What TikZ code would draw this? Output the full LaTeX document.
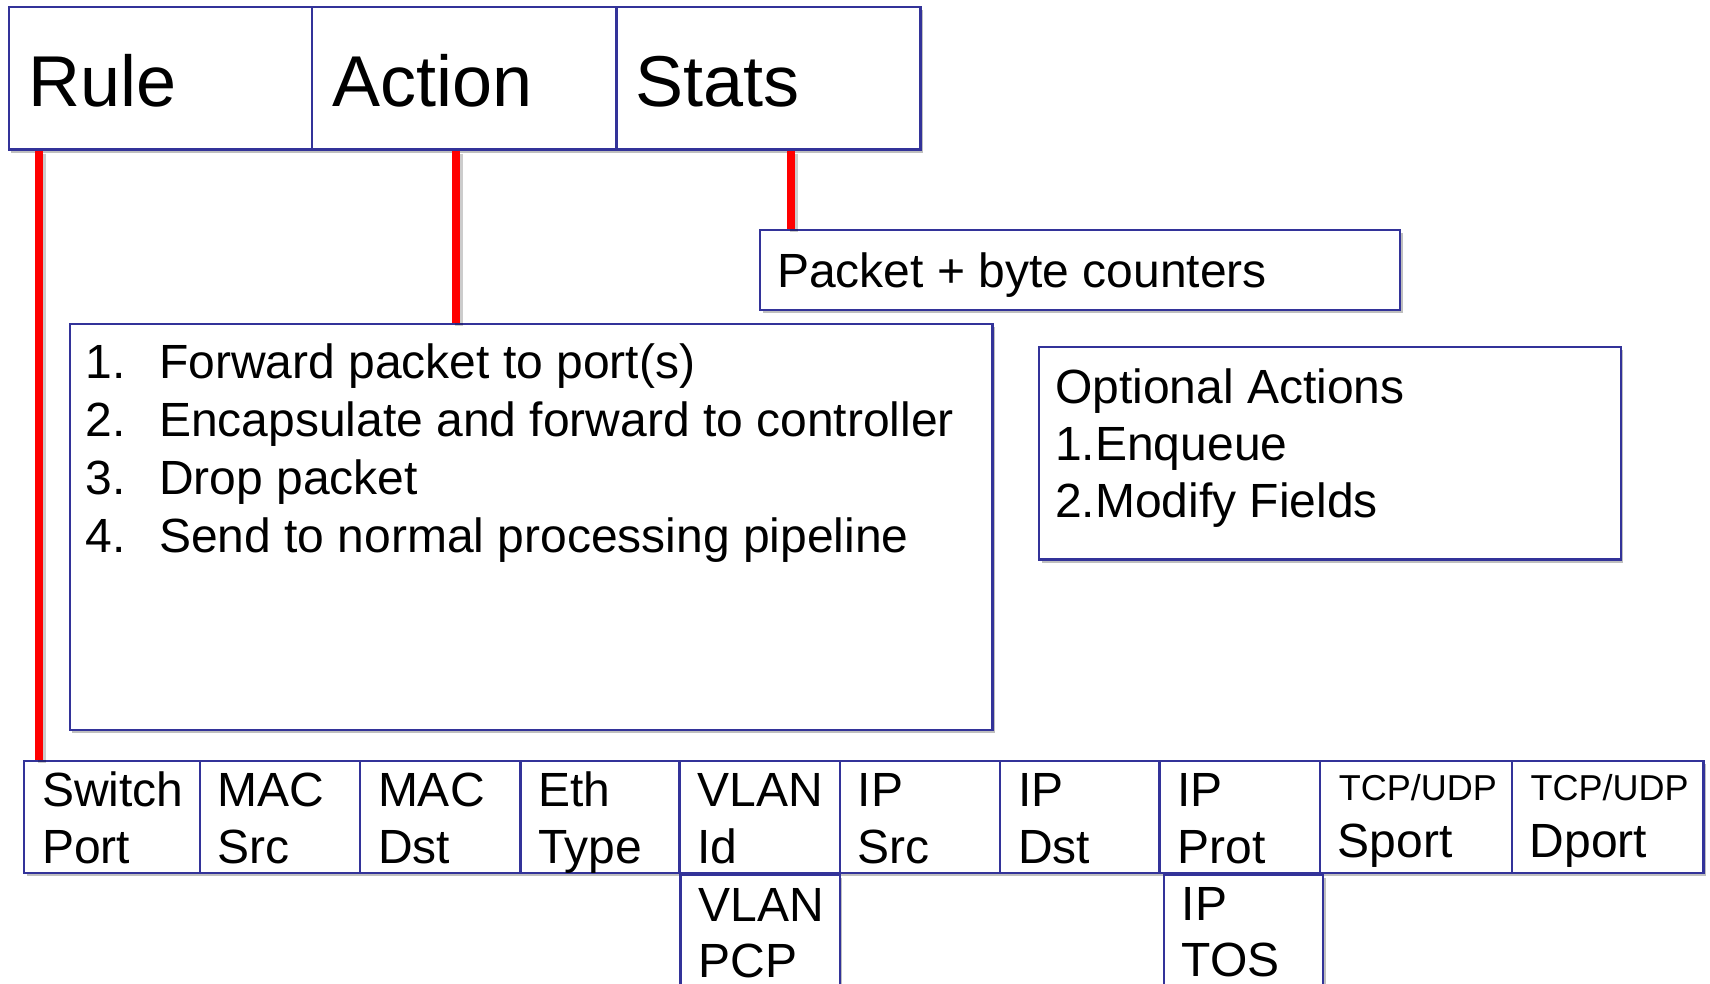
\documentclass[tikz,border=0pt]{standalone}
\usepackage{fontspec}
\setmainfont{Liberation Sans}
\usetikzlibrary{calc,shadows}
\definecolor{frameblue}{HTML}{333399}
\definecolor{tapred}{HTML}{FF0000}

\begin{document}
\begin{tikzpicture}[x=1pt,y=-1pt,
  box/.style={draw=frameblue, line width=2.4pt, fill=white, rectangle,
    inner sep=0pt, anchor=north west,
    drop shadow={shadow xshift=2.5pt, shadow yshift=-3pt, fill=black, opacity=0.25}},
  tap/.style={draw=tapred, line width=8pt,
    preaction={draw=black, opacity=0.2, line width=8pt, transform canvas={shift={(2.5pt,-3pt)}}}},
  big/.style={anchor=base west, inner sep=0pt, font=\fontsize{72}{80}\selectfont},
  txt/.style={anchor=base west, inner sep=0pt, font=\fontsize{48}{57}\selectfont},
  small/.style={anchor=base west, inner sep=0pt, font=\fontsize{36}{42}\selectfont}]

\useasboundingbox (0,0) rectangle (1710,983);
\clip (0,0) rectangle (1710,983);
\fill[white] (0,0) rectangle (1710,983);

% flow entry header: Rule | Action | Stats
\node[box, minimum width=303.2pt, minimum height=142.8pt] (rule)   at (7.6,5.5)   {};
\node[box, minimum width=304.3pt, minimum height=142.8pt] (action) at (310.8,5.5) {};
\node[box, minimum width=304.3pt, minimum height=142.8pt] (stats)  at (615.1,5.5) {};

% counters and action boxes
\node[box, minimum width=640pt,   minimum height=79.6pt]  (counters) at (759,229)     {};
\node[box, minimum width=922.7pt, minimum height=405.7pt] (actlist)  at (68.7,322.8)  {};
\node[box, minimum width=581.5pt, minimum height=212.7pt] (optact)   at (1038,345.7)  {};

% match fields
\node[box, minimum width=175.6pt, minimum height=111.7pt] (swport)  at (22.9,760)   {};
\node[box, minimum width=160.3pt, minimum height=111.7pt] (macsrc)  at (198.5,760)  {};
\node[box, minimum width=160.3pt, minimum height=111.7pt] (macdst)  at (358.8,760)  {};
\node[box, minimum width=159.2pt, minimum height=111.7pt] (ethtype) at (519.1,760)  {};
\node[box, minimum width=160.4pt, minimum height=111.7pt] (vlanid)  at (678.3,760)  {};
\node[box, minimum width=160.3pt, minimum height=111.7pt] (ipsrc)   at (838.7,760)  {};
\node[box, minimum width=159.2pt, minimum height=111.7pt] (ipdst)   at (999,760)    {};
\node[box, minimum width=160.4pt, minimum height=111.7pt] (ipprot)  at (1158.2,760) {};
\node[box, minimum width=191.9pt, minimum height=111.7pt] (sport)   at (1318.6,760) {};
\node[box, minimum width=191.9pt, minimum height=111.7pt] (dport)   at (1510.5,760) {};
\node[box, minimum width=159.3pt, minimum height=120pt]   (vlanpcp) at (679.4,874)  {};
\node[box, minimum width=159.4pt, minimum height=120pt]   (iptos)   at (1162.6,874) {};

% red taps from the header
\coordinate (ruletap) at ($(rule.south west)+(31.7,0)$);
\coordinate (acttap)  at ($(action.south west)+(145.2,0)$);
\coordinate (stattap) at ($(stats.south west)+(175.9,0)$);
\draw[tap] (ruletap) -- (ruletap |- swport.north);
\draw[tap] (acttap)  -- (acttap |- actlist.north);
\draw[tap] (stattap) -- (stattap |- counters.north);

% header labels
\node[big] (lrule)   at (28,106)  {Rule};
\node[big] (laction) at (332,106) {Action};
\node[big] (lstats)  at (635,106) {Stats};

\node[txt] (lcount) at (777,287) {Packet + byte counters};

% action list
\node[txt] (n1) at (85.5,378.5) {1.};
\node[txt] (a1) at (158.8,378.5) {Forward packet to port(s)};
\node[txt] (n2) at (85.5,436.5) {2.};
\node[txt] (a2) at (158.8,436.5) {Encapsulate and forward to controller};
\node[txt] (n3) at (85.5,494.5) {3.};
\node[txt] (a3) at (158.8,494.5) {Drop packet};
\node[txt] (n4) at (85.5,552.5) {4.};
\node[txt] (a4) at (158.8,552.5) {Send to normal processing pipeline};

% optional actions
\node[txt] (o0) at (1055,403) {Optional Actions};
\node[txt] (o1) at (1055,460) {1.Enqueue};
\node[txt] (o2) at (1055,517) {2.Modify Fields};

% match field labels
\node[txt] (f1a) at (41.9,806)  {Switch};  \node[txt] (f1b) at (41.9,863)  {Port};
\node[txt] (f2a) at (217.5,806) {MAC};     \node[txt] (f2b) at (217.5,863) {Src};
\node[txt] (f3a) at (377.8,806) {MAC};     \node[txt] (f3b) at (377.8,863) {Dst};
\node[txt] (f4a) at (538.1,806) {Eth};     \node[txt] (f4b) at (538.1,863) {Type};
\node[txt] (f5a) at (697.3,806) {VLAN};    \node[txt] (f5b) at (697.3,863) {Id};
\node[txt] (f6a) at (857.7,806) {IP};      \node[txt] (f6b) at (857.7,863) {Src};
\node[txt] (f7a) at (1018,806)  {IP};      \node[txt] (f7b) at (1018,863)  {Dst};
\node[txt] (f8a) at (1177.2,806){IP};      \node[txt] (f8b) at (1177.2,863){Prot};
\node[small] (f9a) at (1338.6,800) {TCP/UDP}; \node[txt] (f9b) at (1337.6,857) {Sport};
\node[small] (f10a) at (1530.5,800) {TCP/UDP}; \node[txt] (f10b) at (1529.5,857) {Dport};
\node[txt] (f11a) at (698.4,921)  {VLAN};   \node[txt] (f11b) at (698.4,977)  {PCP};
\node[txt] (f12a) at (1181.6,920) {IP};     \node[txt] (f12b) at (1181.6,976) {TOS};
\end{tikzpicture}
\end{document}
